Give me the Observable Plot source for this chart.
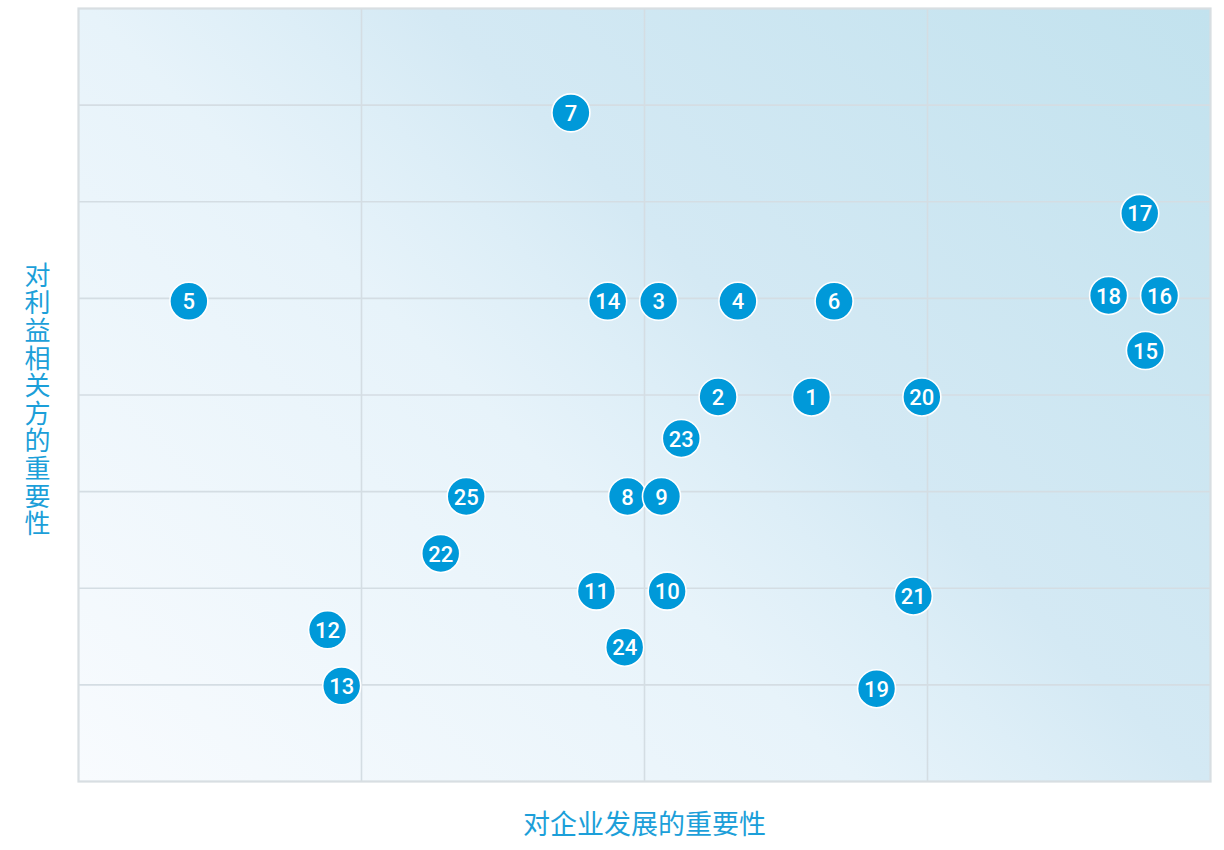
<!DOCTYPE html>
<html>
<head>
<meta charset="utf-8">
<script src="https://cdn.jsdelivr.net/npm/d3@7"></script>
<script src="https://cdn.jsdelivr.net/npm/@observablehq/plot@0.6"></script>
<style>
  html, body { margin: 0; padding: 0; background: #ffffff; }
</style>
</head>
<body>
<div id="chart"></div>
<script>
const ids = ["1","2","3","4","5","6","7","8","9","10","11","12","13","14","15","16","17","18","19","20","21","22","23","24","25"];
const importanceToBusiness = [2.59,2.26,2.05,2.33,0.39,2.67,1.74,1.94,2.06,2.08,1.83,0.88,0.93,1.87,3.77,3.82,3.75,3.64,2.82,2.98,2.95,1.28,2.13,1.93,1.37];
const importanceToStakeholders = [3.98,3.98,4.97,4.97,4.97,4.97,6.92,2.95,2.95,1.97,1.97,1.57,0.99,4.97,4.46,5.03,5.88,5.03,0.96,3.98,1.92,2.36,3.55,1.39,2.95];
const xGrid = [1, 2, 3];
const yGrid = [1, 2, 3, 4, 5, 6, 7];
const xLabel = "对企业发展的重要性";
const yLabel = "对利益相关方的重要性";

const points = ids.map((id, i) => ({id, x: importanceToBusiness[i], y: importanceToStakeholders[i]}));

const chart = Plot.plot({
  width: 1224,
  height: 850,
  marginLeft: 78,
  marginRight: 14,
  marginTop: 8,
  marginBottom: 69,
  x: {domain: [0, 4], axis: null},
  y: {domain: [0, 8], axis: null},
  style: {fontFamily: "Roboto, 'Noto Sans CJK SC', sans-serif", background: "#ffffff"},
  marks: [
    Plot.frame({fill: "url(#bgGrad)", stroke: "none"}),
    Plot.ruleX(xGrid, {stroke: "#d4dde3", strokeWidth: 1.6}),
    Plot.ruleY(yGrid, {stroke: "#d4dde3", strokeWidth: 1.6}),
    Plot.frame({stroke: "#d8dee2", strokeWidth: 2.2}),
    Plot.dot(points, {x: "x", y: "y", r: 19, fill: "#0099d9", stroke: "#ffffff", strokeWidth: 1.6}),
    Plot.text(points, {x: "x", y: "y", text: "id", fill: "#ffffff", fontSize: 22, fontWeight: 500, dy: 1}),
    Plot.text([xLabel], {frameAnchor: "bottom", dy: 52, fill: "#1c9fd9", fontSize: 27, fontFamily: "'Noto Sans CJK SC', sans-serif"}),
    Plot.text([yLabel], {frameAnchor: "left", dx: -41, className: "ylab", fill: "#1c9fd9", fontSize: 26, fontFamily: "'Noto Sans CJK SC', sans-serif"})
  ]
});

const svg = d3.select(chart);
const defs = svg.insert("defs", ":first-child");
const grad = defs.append("linearGradient")
  .attr("id", "bgGrad")
  .attr("gradientUnits", "userSpaceOnUse")
  .attr("x1", 78).attr("y1", 781)
  .attr("x2", 1030.5).attr("y2", -171.5);
[["0", "#f8fbfe"], ["0.41", "#e7f3fa"], ["0.51", "#ddeef7"], ["0.59", "#d4e9f4"], ["1", "#c2e2ee"]]
  .forEach(([o, c]) => grad.append("stop").attr("offset", o).attr("stop-color", c));

svg.selectAll("g.ylab text")
  .attr("dy", null)
  .attr("y", -133)
  .attr("text-anchor", "start")
  .style("writing-mode", "vertical-rl")
  .style("text-orientation", "upright")
  .style("letter-spacing", "1.6px")
  .style("dominant-baseline", "central");

document.getElementById("chart").appendChild(chart);
</script>
</body>
</html>
